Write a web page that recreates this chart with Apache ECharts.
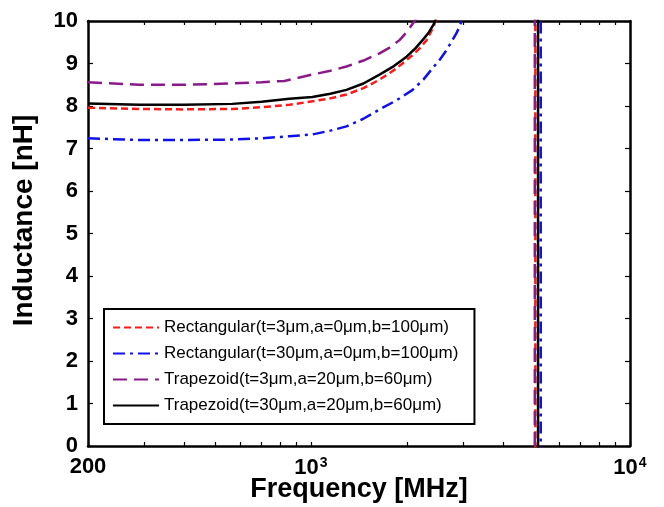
<!DOCTYPE html>
<html><head><meta charset="utf-8">
<script src="https://cdn.jsdelivr.net/npm/echarts@6/dist/echarts.min.js"></script>
<style>html,body{margin:0;padding:0;background:#fff}#c{width:664px;height:507px}</style>
</head><body><div id="c"></div>
<script>
// Frequencies (MHz) and inductance values (nH)
var freqRect3 = [200, 289, 400, 567, 700, 856, 1010, 1150, 1292, 1460, 1640, 1850, 2083, 2200, 2304, 2424, 2600, 3200, 4000, 4700, 5040, 5060, 5500, 7000, 10000];
var valRect3  = [7.96, 7.93, 7.92, 7.93, 7.97, 8.03, 8.11, 8.18, 8.27, 8.42, 8.62, 8.88, 9.2, 9.37, 9.55, 9.87, 10.6, 13, 20, 60, 400, -400, -60, -15, -6];

var freqRect30 = [200, 289, 400, 567, 700, 856, 1010, 1150, 1292, 1460, 1640, 1850, 2083, 2250, 2406, 2540, 2663, 2861, 2968, 3200, 4000, 4800, 5240, 5260, 5800, 7000, 10000];
var valRect30  = [7.24, 7.20, 7.20, 7.21, 7.24, 7.29, 7.33, 7.42, 7.52, 7.70, 7.92, 8.13, 8.38, 8.62, 8.89, 9.10, 9.32, 9.72, 10.0, 10.8, 16, 50, 400, -400, -60, -15, -6];

var freqTrap3 = [200, 289, 400, 567, 700, 825, 1010, 1150, 1292, 1460, 1640, 1770, 1895, 2000, 2113, 2300, 3000, 4000, 4700, 5020, 5040, 5500, 7000, 10000];
var valTrap3  = [8.56, 8.50, 8.50, 8.53, 8.56, 8.59, 8.74, 8.83, 8.93, 9.07, 9.24, 9.38, 9.55, 9.75, 10.0, 10.6, 14, 22, 60, 400, -400, -60, -15, -6];

var freqTrap30 = [200, 289, 400, 567, 700, 856, 1010, 1150, 1292, 1460, 1640, 1820, 1994, 2120, 2238, 2340, 2424, 2600, 3200, 4000, 4800, 5140, 5160, 5700, 7000, 10000];
var valTrap30  = [8.06, 8.03, 8.03, 8.05, 8.10, 8.17, 8.21, 8.29, 8.38, 8.53, 8.74, 8.94, 9.16, 9.35, 9.55, 9.73, 9.92, 10.5, 13, 20, 60, 400, -400, -60, -15, -6];

var seriesNames = [
  'Rectangular(t=3\u03bcm,a=0\u03bcm,b=100\u03bcm)',
  'Rectangular(t=30\u03bcm,a=0\u03bcm,b=100\u03bcm)',
  'Trapezoid(t=3\u03bcm,a=20\u03bcm,b=60\u03bcm)',
  'Trapezoid(t=30\u03bcm,a=20\u03bcm,b=60\u03bcm)'
];
var xLabelTicks = [200, 1000, 10000];
var xAllTicks = [200, 300, 400, 500, 600, 700, 800, 900, 1000, 2000, 3000, 4000, 5000, 6000, 7000, 8000, 9000, 10000];

function pairs(f, v) { return f.map(function (x, i) { return [x, v[i]]; }); }

var chart = echarts.init(document.getElementById('c'), null, {renderer: 'canvas'});
var FONT = 'Liberation Sans, Arial, sans-serif';
function xFmt(v) {
  if (Math.abs(v - 200) < 1e-6) return '200';
  if (Math.abs(v - 1000) < 1e-6) return '10{s|3}';
  if (Math.abs(v - 10000) < 1e-6) return '10{s|4}';
  return '';
}
var labelRich = { s: { fontSize: 14, color: '#000', fontFamily: FONT, verticalAlign: 'top', padding: [0, 0, 10, 1] } };
function xAxisDef(pos, showLabel) {
  return {
    type: 'log', logBase: 10, min: 200, max: 10000, position: pos,
    axisLine: { show: true, onZero: false, lineStyle: { color: '#000', width: 2.5 } },
    axisTick: { show: true, inside: true, length: 4, customValues: xAllTicks, lineStyle: { color: '#000', width: 1.2 } },
    axisLabel: { show: showLabel, customValues: xLabelTicks, formatter: xFmt, rich: labelRich, color: '#000', fontSize: 22, fontWeight: 'bold', fontFamily: FONT, margin: 10 },
    splitLine: { show: false }, minorTick: { show: false }
  };
}
var xAxes = [xAxisDef('bottom', true), xAxisDef('top', false)];
xAxes[0].name = 'Frequency [MHz]';
xAxes[0].nameLocation = 'middle';
xAxes[0].nameGap = 30;
xAxes[0].nameMoveOverlap = false;
xAxes[0].nameTextStyle = { color: '#000', fontSize: 27, fontWeight: 'bold', fontFamily: FONT };

var styles = [
  { color: '#ff1a1a', type: [7, 4] },
  { color: '#1010ee', type: [12, 5, 3, 5] },
  { color: '#8a1a8a', type: [14, 7] },
  { color: '#000000', type: 'solid' }
];
var dataSets = [pairs(freqRect3, valRect3), pairs(freqRect30, valRect30), pairs(freqTrap3, valTrap3), pairs(freqTrap30, valTrap30)];

function yAxisDef(pos, showLabel) {
  return { type: 'value', min: 0, max: 10, interval: 1, position: pos,
    axisLine: { show: true, onZero: false, lineStyle: { color: '#000', width: 2.5 } },
    axisTick: { show: true, inside: true, length: 5, lineStyle: { color: '#000', width: 1.2 } },
    axisLabel: { show: showLabel, color: '#000', fontSize: 22, fontWeight: 'bold', fontFamily: FONT, margin: 10 },
    splitLine: { show: false } };
}
var yAxes = [yAxisDef('left', true), yAxisDef('right', false)];
yAxes[0].name = 'Inductance [nH]';
yAxes[0].nameLocation = 'middle';
yAxes[0].nameGap = 50;
yAxes[0].nameMoveOverlap = false;
yAxes[0].nameTextStyle = { color: '#000', fontSize: 28, fontWeight: 'bold', fontFamily: FONT, padding: [0, 0, 0, 26] };

chart.setOption({
  animation: false,
  backgroundColor: '#fff',
  grid: { left: 88, right: 34, top: 21, bottom: 61, containLabel: false, outerBoundsMode: 'none' },
  legend: {
    orient: 'vertical', left: 104, top: 309,
    data: seriesNames,
    itemWidth: 46, itemHeight: 14, itemGap: 9,
    padding: [10, 16, 10, 8],
    borderColor: '#000', borderWidth: 2, backgroundColor: '#fff',
    itemStyle: { opacity: 0 },
    textStyle: { color: '#000', fontSize: 17, fontFamily: FONT }
  },
  xAxis: xAxes,
  yAxis: yAxes,
  series: dataSets.map(function (d, i) {
    return {
      name: seriesNames[i], type: 'line', data: d,
      symbol: 'none', clip: true, smooth: false,
      lineStyle: { color: styles[i].color, width: 2.5, type: styles[i].type },
      itemStyle: { color: styles[i].color },
      z: i === 3 ? 5 : 3
    };
  })
});
</script></body></html>
